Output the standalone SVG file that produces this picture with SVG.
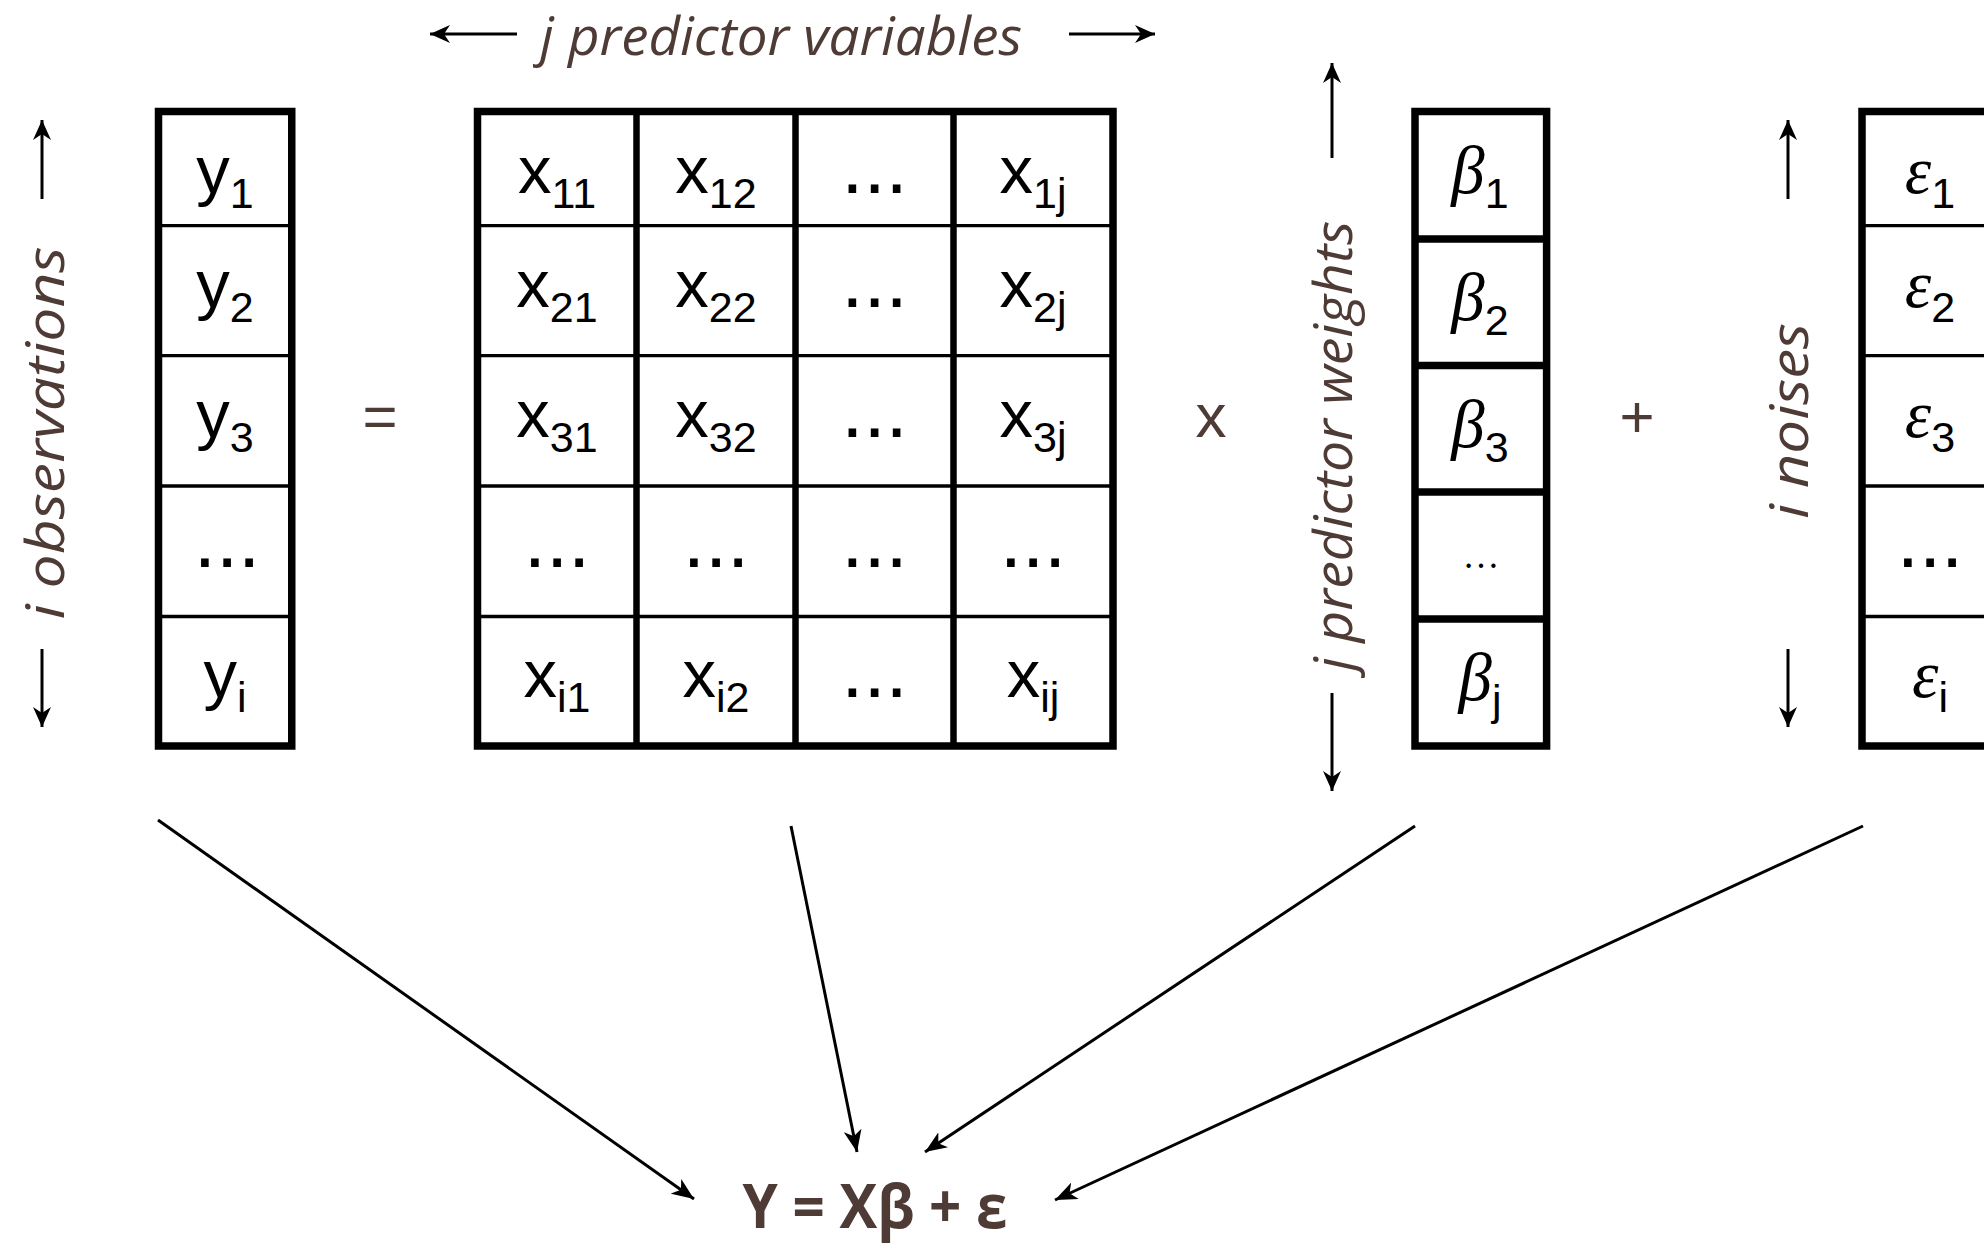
<svg xmlns="http://www.w3.org/2000/svg" width="1984" height="1244" viewBox="0 0 1984 1244">
<defs>
<marker id="tip" viewBox="0 0 22 18" refX="22" refY="9" markerWidth="22" markerHeight="18" markerUnits="userSpaceOnUse" orient="auto"><path d="M0,0 L22,9 L0,18 L6,9 Z" fill="#000"/></marker>
<marker id="tipS" viewBox="0 0 20 18" refX="20" refY="9" markerWidth="20" markerHeight="18" markerUnits="userSpaceOnUse" orient="auto"><path d="M0,0 L20,9 L0,18 L6,9 Z" fill="#000"/></marker>
</defs>
<style>
.lbl{font-family:"Open Sans","Noto Sans",sans-serif;font-style:italic;font-size:53px;fill:#4F3B36}
.op{font-family:"Liberation Sans",Arial,sans-serif;font-size:60px;fill:#4F3B36;text-anchor:middle}
.cell{font-family:"Liberation Sans",Arial,sans-serif;font-size:67px;fill:#000;text-anchor:middle}
.sub{font-size:43px}
.gr{font-family:"Liberation Serif","Times New Roman",serif;font-style:italic}
.dots{font-family:"Liberation Sans",Arial,sans-serif;font-size:80px;fill:#000;text-anchor:middle}
.outer{fill:none;stroke:#000;stroke-width:7.5}
.thin{stroke:#000;stroke-width:3.3}
.thick{stroke:#000;stroke-width:6.5}
.arr{stroke:#000;stroke-width:3;fill:none}
.conn{stroke:#000;stroke-width:3;fill:none}
.formula{font-family:"Open Sans","Noto Sans",sans-serif;font-weight:bold;font-size:60px;fill:#4F3B36;text-anchor:middle}
</style>
<rect width="1984" height="1244" fill="#fff"/>

<g id="label-j-variables">
<text class="lbl" x="781" y="55" text-anchor="middle" textLength="482" lengthAdjust="spacingAndGlyphs">j predictor variables</text>
<line class="arr" x1="517" y1="34" x2="430" y2="34" marker-end="url(#tipS)"/>
<line class="arr" x1="1069" y1="34" x2="1155" y2="34" marker-end="url(#tipS)"/>
</g>

<g id="label-i-observations">
<text class="lbl" transform="translate(64,433) rotate(-90)" text-anchor="middle" textLength="373" lengthAdjust="spacingAndGlyphs">i observations</text>
<line class="arr" x1="42" y1="199" x2="42" y2="120" marker-end="url(#tipS)"/>
<line class="arr" x1="42" y1="649" x2="42" y2="727" marker-end="url(#tipS)"/>
</g>

<g id="y-vector">
<rect class="outer" x="158.5" y="111.5" width="133.25" height="634.5"/>
<line class="thin" x1="158.5" y1="225.7" x2="291.75" y2="225.7"/>
<line class="thin" x1="158.5" y1="355.7" x2="291.75" y2="355.7"/>
<line class="thin" x1="158.5" y1="486" x2="291.75" y2="486"/>
<line class="thin" x1="158.5" y1="616.5" x2="291.75" y2="616.5"/>
<text class="cell" x="225" y="193">y<tspan class="sub" dy="15">1</tspan></text>
<text class="cell" x="225" y="307">y<tspan class="sub" dy="15">2</tspan></text>
<text class="cell" x="225" y="437">y<tspan class="sub" dy="15">3</tspan></text>
<text class="dots" x="227" y="567">...</text>
<text class="cell" x="225" y="697">y<tspan class="sub" dy="15">i</tspan></text>
</g>

<g id="op-equals"><text class="op" x="380" y="437">=</text></g>

<g id="x-matrix">
<rect class="outer" x="477.5" y="111.5" width="635.5" height="634.5"/>
<line class="thick" x1="636.5" y1="111.5" x2="636.5" y2="746"/>
<line class="thick" x1="795.5" y1="111.5" x2="795.5" y2="746"/>
<line class="thick" x1="953.5" y1="111.5" x2="953.5" y2="746"/>
<line class="thin" x1="477.5" y1="225.7" x2="1113" y2="225.7"/>
<line class="thin" x1="477.5" y1="355.7" x2="1113" y2="355.7"/>
<line class="thin" x1="477.5" y1="486" x2="1113" y2="486"/>
<line class="thin" x1="477.5" y1="616.5" x2="1113" y2="616.5"/>
<text class="cell" x="557" y="193">x<tspan class="sub" dy="15">11</tspan></text>
<text class="cell" x="716" y="193">x<tspan class="sub" dy="15">12</tspan></text>
<text class="dots" x="874.5" y="193">...</text>
<text class="cell" x="1033" y="193">x<tspan class="sub" dy="15">1j</tspan></text>
<text class="cell" x="557" y="307">x<tspan class="sub" dy="15">21</tspan></text>
<text class="cell" x="716" y="307">x<tspan class="sub" dy="15">22</tspan></text>
<text class="dots" x="874.5" y="307">...</text>
<text class="cell" x="1033" y="307">x<tspan class="sub" dy="15">2j</tspan></text>
<text class="cell" x="557" y="437">x<tspan class="sub" dy="15">31</tspan></text>
<text class="cell" x="716" y="437">x<tspan class="sub" dy="15">32</tspan></text>
<text class="dots" x="874.5" y="437">...</text>
<text class="cell" x="1033" y="437">x<tspan class="sub" dy="15">3j</tspan></text>
<text class="dots" x="557" y="567">...</text>
<text class="dots" x="716" y="567">...</text>
<text class="dots" x="874.5" y="567">...</text>
<text class="dots" x="1033" y="567">...</text>
<text class="cell" x="557" y="697">x<tspan class="sub" dy="15">i1</tspan></text>
<text class="cell" x="716" y="697">x<tspan class="sub" dy="15">i2</tspan></text>
<text class="dots" x="874.5" y="697">...</text>
<text class="cell" x="1033" y="697">x<tspan class="sub" dy="15">ij</tspan></text>
</g>

<g id="op-times"><text class="op" x="1211" y="437" style="font-size:62px">x</text></g>

<g id="label-j-weights">
<text class="lbl" transform="translate(1352,446) rotate(-90)" text-anchor="middle" textLength="450" lengthAdjust="spacingAndGlyphs">j predictor weights</text>
<line class="arr" x1="1332" y1="158" x2="1332" y2="63" marker-end="url(#tipS)"/>
<line class="arr" x1="1332" y1="693" x2="1332" y2="791" marker-end="url(#tipS)"/>
</g>

<g id="beta-vector">
<rect class="outer" x="1415" y="111.5" width="131.6" height="634.5"/>
<line class="thick" x1="1415" y1="239" x2="1546.6" y2="239" style="stroke-width:7.5"/>
<line class="thick" x1="1415" y1="365.5" x2="1546.6" y2="365.5" style="stroke-width:7.5"/>
<line class="thick" x1="1415" y1="492" x2="1546.6" y2="492" style="stroke-width:7.5"/>
<line class="thick" x1="1415" y1="619" x2="1546.6" y2="619" style="stroke-width:7.5"/>
<text class="cell" x="1480" y="193"><tspan class="gr">β</tspan><tspan class="sub" dy="15">1</tspan></text>
<text class="cell" x="1480" y="320"><tspan class="gr">β</tspan><tspan class="sub" dy="15">2</tspan></text>
<text class="cell" x="1480" y="447"><tspan class="gr">β</tspan><tspan class="sub" dy="15">3</tspan></text>
<text class="gr" x="1481" y="568" text-anchor="middle" style="font-size:37px;font-style:normal">…</text>
<text class="cell" x="1480" y="700"><tspan class="gr">β</tspan><tspan class="sub" dy="15">j</tspan></text>
</g>

<g id="op-plus"><text class="op" x="1637" y="437">+</text></g>

<g id="label-i-noises">
<text class="lbl" transform="translate(1808,421) rotate(-90)" text-anchor="middle" textLength="196" lengthAdjust="spacingAndGlyphs">i noises</text>
<line class="arr" x1="1788" y1="199" x2="1788" y2="120" marker-end="url(#tipS)"/>
<line class="arr" x1="1788" y1="649" x2="1788" y2="727" marker-end="url(#tipS)"/>
</g>

<g id="eps-vector">
<rect class="outer" x="1862" y="111.5" width="200" height="634.5"/>
<line class="thin" x1="1862" y1="225.7" x2="1984" y2="225.7"/>
<line class="thin" x1="1862" y1="355.7" x2="1984" y2="355.7"/>
<line class="thin" x1="1862" y1="486" x2="1984" y2="486"/>
<line class="thin" x1="1862" y1="616.5" x2="1984" y2="616.5"/>
<text class="cell" x="1930" y="193"><tspan class="gr">ε</tspan><tspan class="sub" dy="15">1</tspan></text>
<text class="cell" x="1930" y="307"><tspan class="gr">ε</tspan><tspan class="sub" dy="15">2</tspan></text>
<text class="cell" x="1930" y="437"><tspan class="gr">ε</tspan><tspan class="sub" dy="15">3</tspan></text>
<text class="dots" x="1930" y="567">...</text>
<text class="cell" x="1930" y="697"><tspan class="gr">ε</tspan><tspan class="sub" dy="15">i</tspan></text>
</g>

<g id="connectors">
<line class="conn" x1="158" y1="820" x2="694" y2="1199" marker-end="url(#tip)"/>
<line class="conn" x1="791" y1="826" x2="857" y2="1152" marker-end="url(#tip)"/>
<line class="conn" x1="1415" y1="826" x2="925" y2="1152" marker-end="url(#tip)"/>
<line class="conn" x1="1863" y1="826" x2="1055" y2="1200" marker-end="url(#tip)"/>
</g>

<g id="formula">
<text class="formula" x="875" y="1228" textLength="265" lengthAdjust="spacingAndGlyphs">Y = Xβ + ε</text>
</g>
</svg>
